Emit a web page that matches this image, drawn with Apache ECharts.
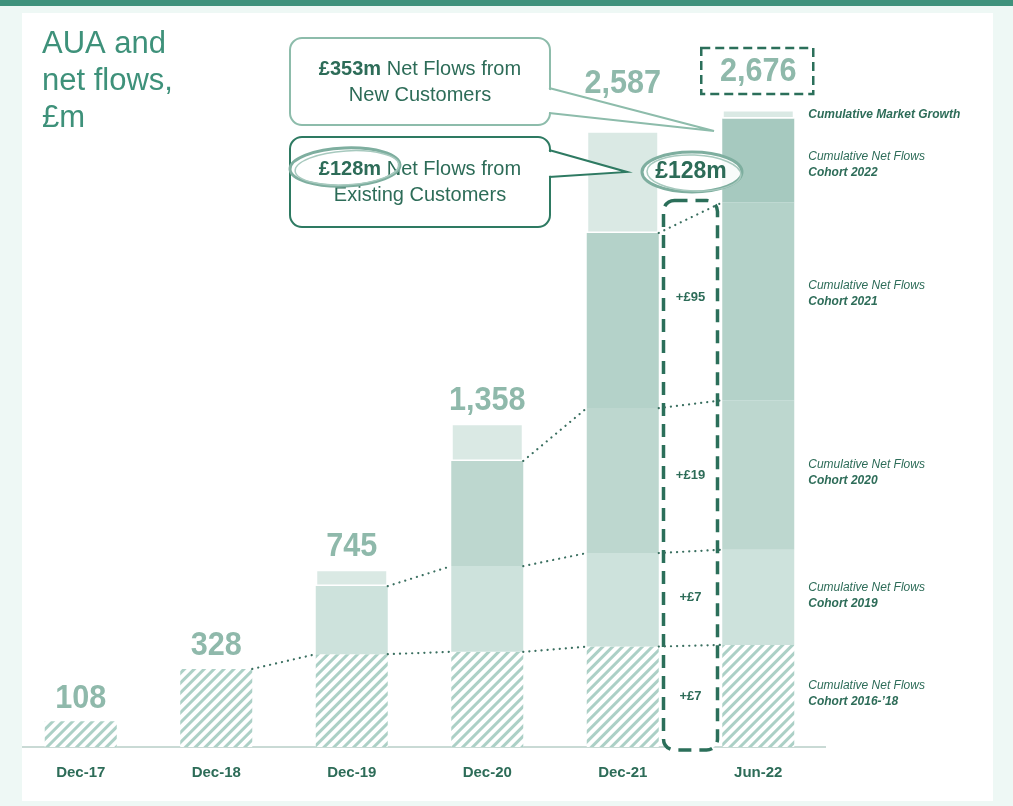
<!DOCTYPE html>
<html>
<head>
<meta charset="utf-8">
<script src="https://cdn.jsdelivr.net/npm/echarts@6/dist/echarts.min.js"></script>
<style>
    html, body { margin: 0; padding: 0; background: #eef8f5; }
    #chartAua { width: 1013px; height: 806px; }
</style>
</head>
<body>
<div id="chartAua"></div>
<script>
// AUA by cohort, £m
const categories = ['Dec-17', 'Dec-18', 'Dec-19', 'Dec-20', 'Dec-21', 'Jun-22'];
const cohort1618 = [108, 328, 390, 400, 422, 429];
const cohort2019 = [null, null, 286, 360, 393, 400];
const cohort2020 = [null, null, null, 442, 609, 628];
const cohort2021 = [null, null, null, null, 736, 831];
const cohort2022 = [null, null, null, null, null, 353];
const marketGrowth = [null, null, 69, 156, 427, 35];
const totals = [108, 328, 745, 1358, 2587, 2676];
// net flows from existing customers, Dec-21 -> Jun-22, bottom cohort first
const flowSteps = [7, 7, 19, 95];
const sideLabels = [
    ['Cumulative Net Flows', 'Cohort 2016-\u201918'],
    ['Cumulative Net Flows', 'Cohort 2019'],
    ['Cumulative Net Flows', 'Cohort 2020'],
    ['Cumulative Net Flows', 'Cohort 2021'],
    ['Cumulative Net Flows', 'Cohort 2022'],
    [null, 'Cumulative Market Growth']
];

window.onload = function () {
    const FONT = '"Liberation Sans", Arial, sans-serif';
    const DARK = '#2d6c58';
    const TOTAL_COLOR = '#8fb9ab';
    const BAR_W = 72;

    let layers = [cohort1618, cohort2019, cohort2020, cohort2021, cohort2022, marketGrowth];

    // cumulative level at the top of each layer, per category
    let levels = [];
    let running = categories.map(() => 0);
    layers.forEach((layer) => {
        let lvl = layer.map((v, i) => {
            if (v == null) return null;
            running[i] += v;
            return running[i];
        });
        levels.push(lvl);
    });

    // dotted connectors between neighbouring bars (cohort layers only)
    let connectors = [];
    for (let k = 0; k < 5; k++) {
        for (let i = 1; i < categories.length - 1; i++) {
            if (levels[k][i] != null && levels[k][i + 1] != null) {
                connectors.push([i, levels[k][i], levels[k][i + 1]]);
            }
        }
    }

    let last = categories.length - 1;
    let existingTop = levels[3][last];

    let chart = echarts.init(document.getElementById('chartAua'));

    function barSeries(name, data, color, extra) {
        return Object.assign({
            name: name,
            type: 'bar',
            stack: 'aua',
            data: data,
            barWidth: BAR_W,
            itemStyle: { color: color },
            emphasis: { disabled: true }
        }, extra || {});
    }

    let option = {
        backgroundColor: '#eef8f5',
        animation: false,
        grid: { left: 13, right: 187, top: 33, bottom: 59 },
        xAxis: {
            type: 'category',
            data: categories,
            axisLine: { show: false },
            axisTick: { show: false },
            axisLabel: { color: DARK, fontWeight: 'bold', fontSize: 15, margin: 18, fontFamily: FONT }
        },
        yAxis: {
            type: 'value',
            min: 0,
            max: 3000,
            show: false
        },
        graphic: [
            { type: 'rect', z: -10, shape: { x: 0, y: 0, width: 1013, height: 6 }, style: { fill: '#3f927c' } },
            { type: 'rect', z: -10, shape: { x: 22, y: 13, width: 971, height: 788 }, style: { fill: '#ffffff' } },
            { type: 'line', z: -5, shape: { x1: 22, y1: 747, x2: 826, y2: 747 }, style: { stroke: '#b7cec7', lineWidth: 1.5 } },
            {
                type: 'text', z: 100, x: 42, y: 26,
                style: {
                    text: 'AUA and\nnet flows,\n£m',
                    font: '31px ' + FONT, fill: '#3e917a', lineHeight: 37
                }
            },
            // callout: new customers
            { type: 'rect', z: 100, shape: { x: 290, y: 38, width: 260, height: 87, r: 12 }, style: { fill: '#fff', stroke: '#8dbcab', lineWidth: 2 } },
            { type: 'polygon', z: 101, shape: { points: [[546, 89], [714, 131], [546, 112]] }, style: { fill: '#fff' } },
            { type: 'polyline', z: 101, shape: { points: [[549, 88], [714, 131], [549, 113]] }, style: { stroke: '#8dbcab', lineWidth: 2, fill: null } },
            {
                type: 'text', z: 102, x: 420, y: 82,
                style: {
                    text: '{b|£353m} Net Flows from\nNew Customers',
                    font: '20px ' + FONT, fill: DARK, align: 'center', verticalAlign: 'middle', lineHeight: 26,
                    rich: { b: { fontWeight: 'bold', fontSize: 20, fontFamily: FONT, fill: DARK } }
                }
            },
            // callout: existing customers
            { type: 'rect', z: 100, shape: { x: 290, y: 137, width: 260, height: 90, r: 12 }, style: { fill: '#fff', stroke: '#2e7a62', lineWidth: 2 } },
            { type: 'polygon', z: 101, shape: { points: [[546, 151], [627, 172], [546, 176]] }, style: { fill: '#fff' } },
            { type: 'polyline', z: 101, shape: { points: [[549, 150], [627, 172], [549, 177]] }, style: { stroke: '#2e7a62', lineWidth: 2, fill: null } },
            {
                type: 'text', z: 102, x: 420, y: 182,
                style: {
                    text: '{b|£128m} Net Flows from\nExisting Customers',
                    font: '20px ' + FONT, fill: DARK, align: 'center', verticalAlign: 'middle', lineHeight: 26,
                    rich: { b: { fontWeight: 'bold', fontSize: 20, fontFamily: FONT, fill: DARK } }
                }
            },
            { type: 'ellipse', z: 103, shape: { cx: 345, cy: 167, rx: 55, ry: 19 }, rotation: 0.04, originX: 345, originY: 167, style: { fill: null, stroke: '#7eae9f', lineWidth: 3 } },
            { type: 'ellipse', z: 103, shape: { cx: 347, cy: 168, rx: 52, ry: 17 }, rotation: 0.06, originX: 345, originY: 167, style: { fill: null, stroke: '#a7c9be', lineWidth: 1.5 } },
            // £128m marker near the bars
            { type: 'ellipse', z: 100, shape: { cx: 692, cy: 172, rx: 50, ry: 20 }, style: { fill: 'rgba(255,255,255,0.92)', stroke: '#7eae9f', lineWidth: 3 } },
            { type: 'ellipse', z: 100, shape: { cx: 694, cy: 173, rx: 47, ry: 18 }, rotation: -0.04, originX: 692, originY: 172, style: { fill: null, stroke: '#a7c9be', lineWidth: 1.5 } },
            {
                type: 'text', z: 104, x: 691, y: 172,
                style: { text: '£128m', font: 'bold 23px ' + FONT, fill: DARK, align: 'center', verticalAlign: 'middle' }
            }
        ],
        series: [
            barSeries('Cohort 2016-\u201918', cohort1618, '#ffffff', {
                itemStyle: {
                    color: '#ffffff',
                    decal: {
                        symbol: 'rect',
                        symbolSize: 1,
                        dashArrayX: [1, 0],
                        dashArrayY: [2.3, 3.5],
                        rotation: -Math.PI / 4,
                        color: '#acd0c6'
                    }
                }
            }),
            barSeries('Cohort 2019', cohort2019, '#cde2dc'),
            barSeries('Cohort 2020', cohort2020, '#bdd7cf'),
            barSeries('Cohort 2021', cohort2021, '#b4d2c9'),
            barSeries('Cohort 2022', cohort2022, '#a6c9bf'),
            barSeries('Cumulative Market Growth', marketGrowth, '#dae9e4', {
                itemStyle: { color: '#dae9e4', borderColor: '#ffffff', borderWidth: 1.5 }
            }),
            {
                // dashed box with the step-up from existing customers
                type: 'custom',
                z: 3,
                data: [[last - 1, existingTop]],
                renderItem: function (params, api) {
                    let band = api.size([1, 0])[0];
                    let cx = api.coord([last - 1, 0])[0] + band / 2;
                    let top = api.coord([last - 1, api.value(1)])[1] - 2;
                    let base = api.coord([last - 1, 0])[1];
                    let children = [{
                        type: 'rect',
                        shape: { x: cx - 27, y: top, width: 54, height: base + 3 - top, r: 11 },
                        style: { fill: '#ffffff', stroke: '#2b6f5a', lineWidth: 3.5, lineDash: [13, 8] }
                    }];
                    flowSteps.forEach((step, k) => {
                        let lo = k === 0 ? 0 : levels[k - 1][last];
                        let mid = (lo + levels[k][last]) / 2;
                        children.push({
                            type: 'text',
                            x: cx, y: api.coord([last, mid])[1] - (k === 3 ? 4 : 0),
                            style: {
                                text: '{s|+£' + step + '}', align: 'center', verticalAlign: 'middle',
                                rich: { s: { fontSize: 13, fontWeight: 'bold', fontFamily: FONT, fill: DARK } }
                            }
                        });
                    });
                    return { type: 'group', children: children };
                }
            },
            {
                // dotted connectors between cohort levels
                type: 'custom',
                z: 4,
                data: connectors,
                renderItem: function (params, api) {
                    let i = api.value(0);
                    let a = api.coord([i, api.value(1)]);
                    let b = api.coord([i + 1, api.value(2)]);
                    return {
                        type: 'line',
                        shape: { x1: a[0] + BAR_W / 2, y1: a[1], x2: b[0] - BAR_W / 2, y2: b[1] },
                        style: { stroke: '#3a6f60', lineWidth: 2.2, lineDash: [0.1, 6], lineCap: 'round' }
                    };
                }
            },
            {
                // totals above bars
                type: 'custom',
                z: 5,
                data: totals.map((v, i) => [i, v]),
                renderItem: function (params, api) {
                    let i = api.value(0);
                    let p = api.coord([i, api.value(1)]);
                    let lift = i === 4 ? 48 : (i === 5 ? 38 : 23);
                    let txt = {
                        type: 'text',
                        x: p[0], y: p[1] - lift,
                        scaleX: 0.9,
                        style: {
                            text: '{t|' + echarts.format.addCommas(api.value(1)) + '}',
                            align: 'center', verticalAlign: 'middle',
                            rich: { t: { fontSize: 34, fontWeight: 'bold', fontFamily: FONT, fill: TOTAL_COLOR } }
                        }
                    };
                    if (i !== 5) return txt;
                    return {
                        type: 'group',
                        children: [txt, {
                            type: 'rect',
                            shape: { x: p[0] - 57, y: p[1] - lift - 24, width: 112, height: 46 },
                            style: { fill: null, stroke: '#2b6f5a', lineWidth: 2.5, lineDash: [9, 5] }
                        }]
                    };
                }
            },
            {
                // labels to the right of the last bar
                type: 'custom',
                z: 5,
                data: sideLabels.map((lab, k) => {
                    let lo = k === 0 ? 0 : levels[k - 1][last];
                    return [last, (lo + levels[k][last]) / 2, k];
                }),
                renderItem: function (params, api) {
                    let k = api.value(2);
                    let p = api.coord([last, api.value(1)]);
                    let lab = sideLabels[k];
                    let text = lab[0] ? '{a|' + lab[0] + '}\n{b|' + lab[1] + '}' : '{b|' + lab[1] + '}';
                    let dy = k === 3 ? -8 : (k === 4 ? 4 : (k === 5 ? 0 : -2));
                    return {
                        type: 'text',
                        x: p[0] + BAR_W / 2 + 14, y: p[1] + dy,
                        style: {
                            text: text, align: 'left', verticalAlign: 'middle',
                            rich: {
                                a: { fontStyle: 'italic', fontSize: 12, fontFamily: FONT, fill: DARK, lineHeight: 16 },
                                b: { fontStyle: 'italic', fontWeight: 'bold', fontSize: 12, fontFamily: FONT, fill: DARK, lineHeight: 16 }
                            }
                        }
                    };
                }
            }
        ]
    };

    chart.setOption(option);
};
</script>
</body>
</html>
